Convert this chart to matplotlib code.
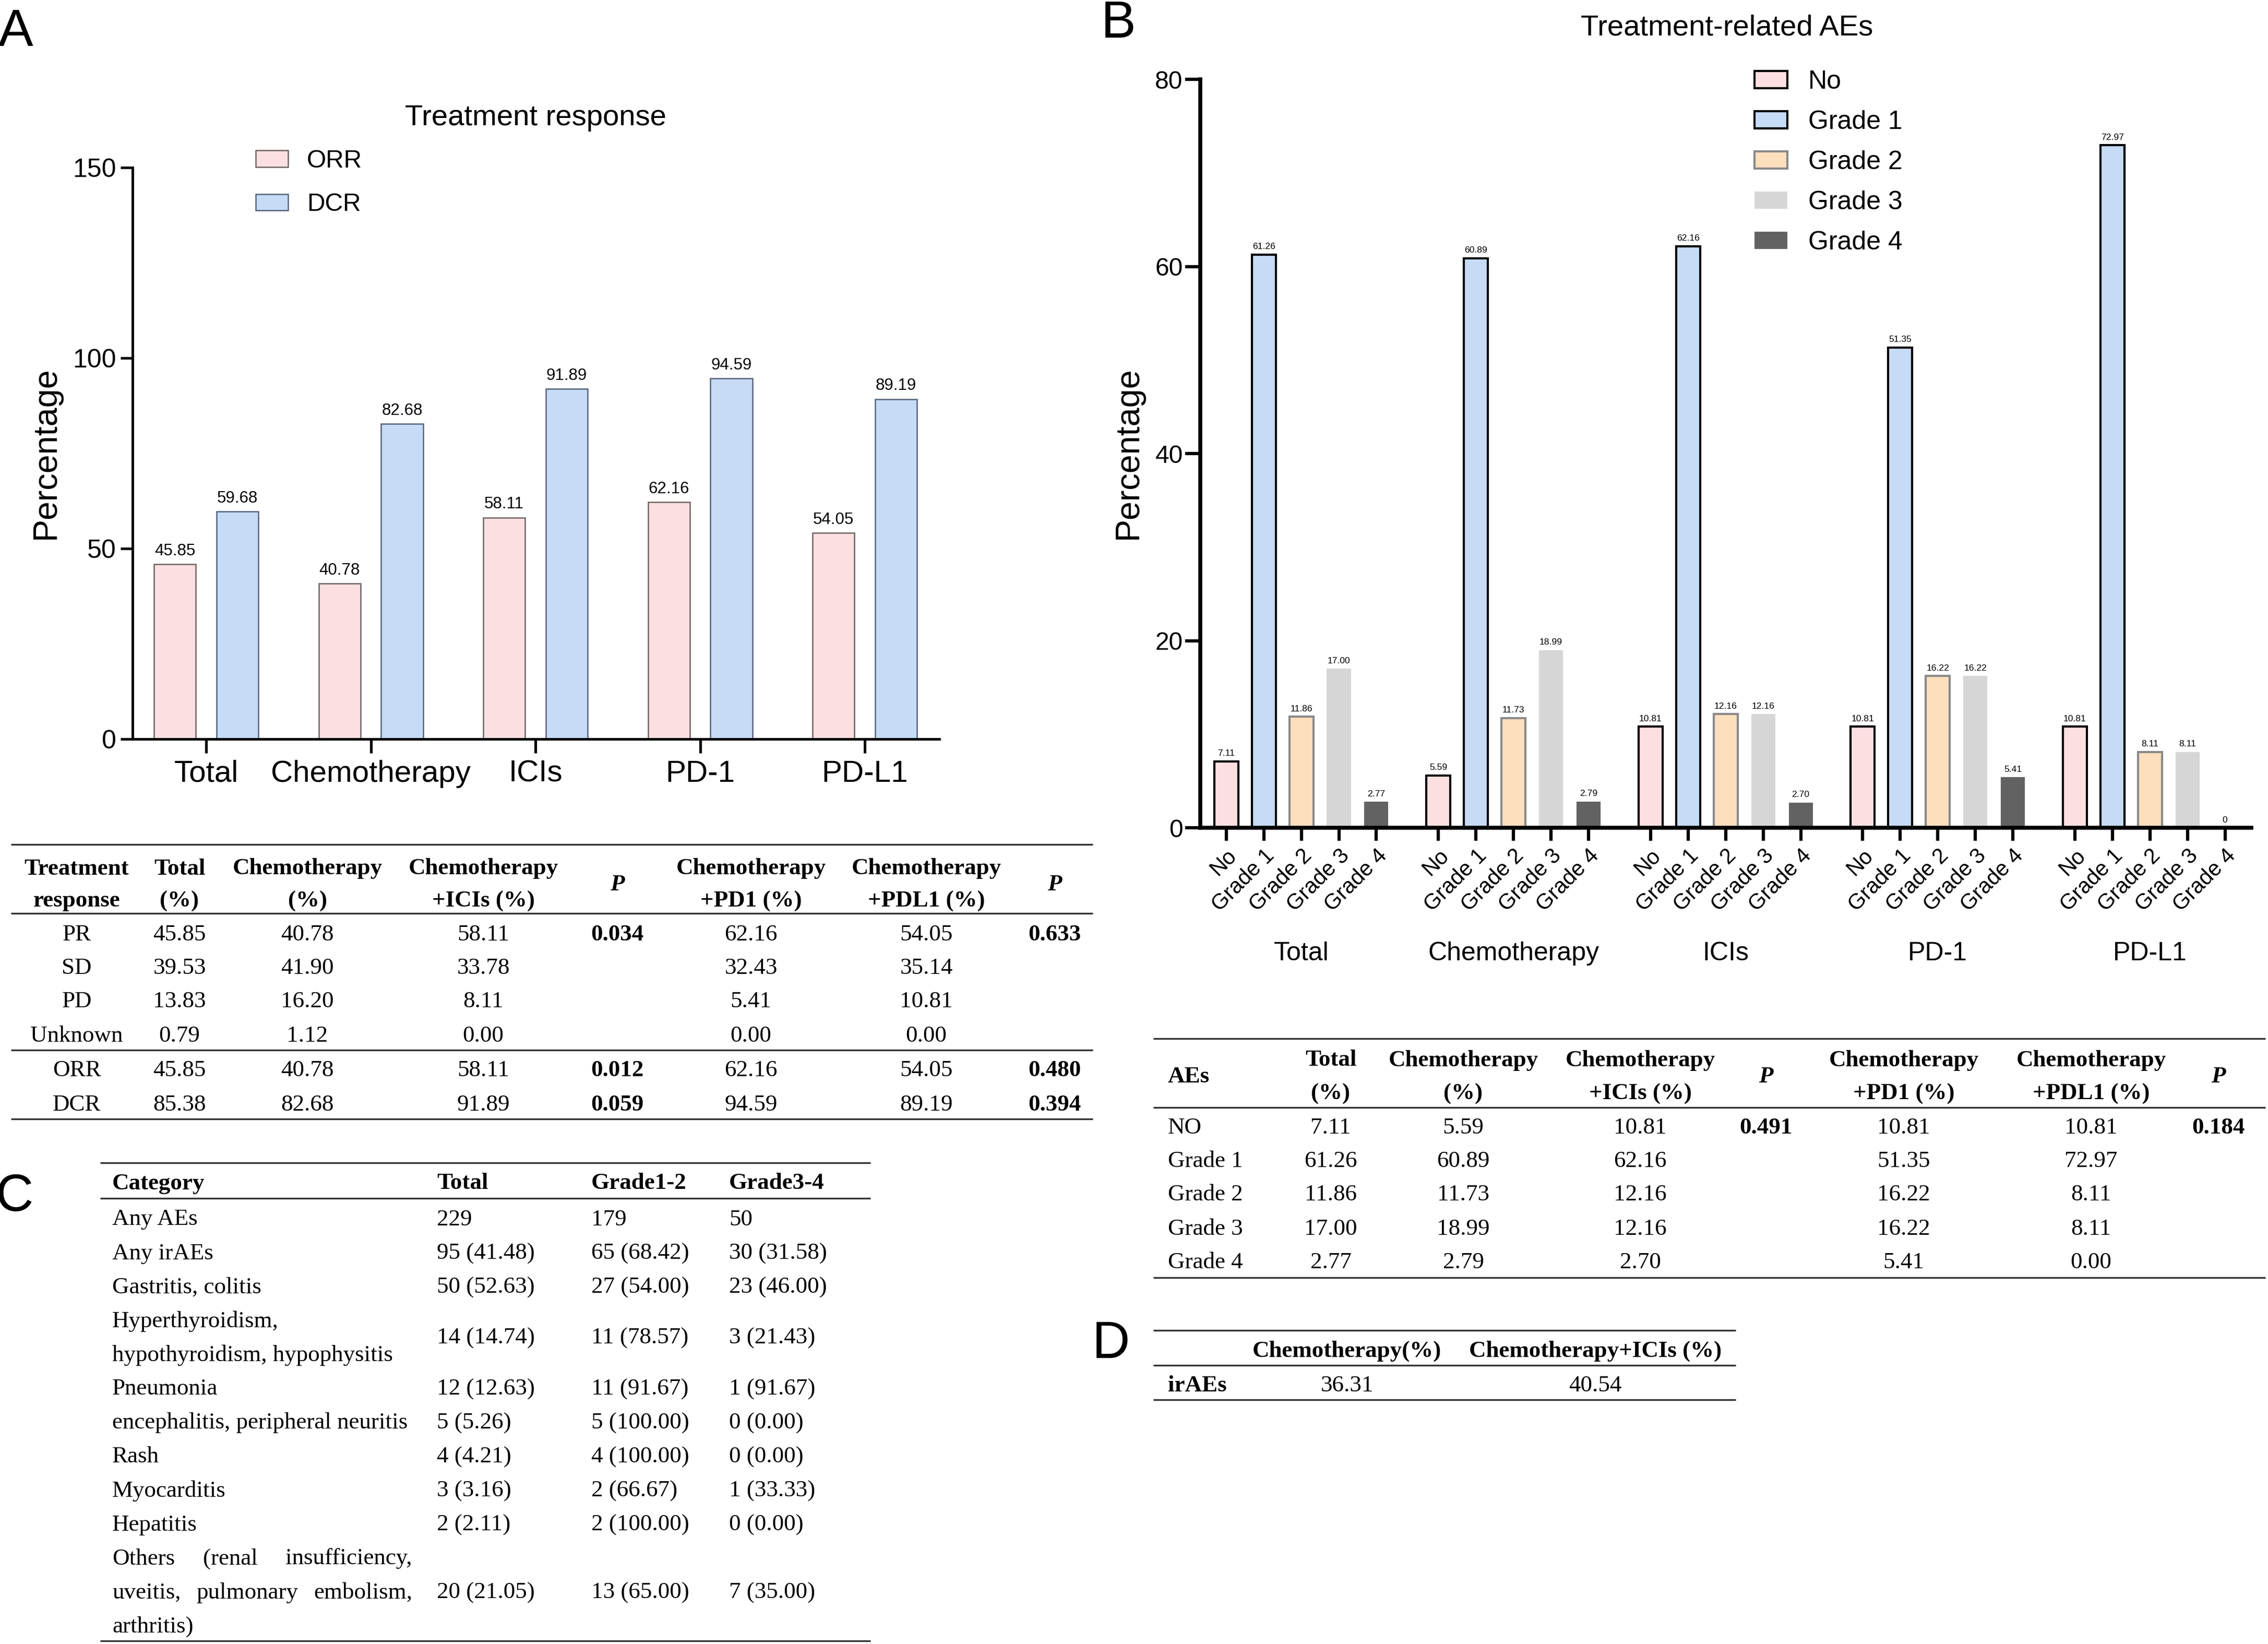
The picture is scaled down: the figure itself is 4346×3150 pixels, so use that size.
import matplotlib
matplotlib.use('Agg')
import matplotlib.pyplot as plt
import numpy as np

W, H = 4346, 3150
DPI = 300

# ---- chart data ----
groups = ['Total', 'Chemotherapy', 'ICIs', 'PD-1', 'PD-L1']
orr = [45.85, 40.78, 58.11, 62.16, 54.05]
dcr = [59.68, 82.68, 91.89, 94.59, 89.19]

grades = ['No', 'Grade 1', 'Grade 2', 'Grade 3', 'Grade 4']
ae_no = [7.11, 5.59, 10.81, 10.81, 10.81]
ae_g1 = [61.26, 60.89, 62.16, 51.35, 72.97]
ae_g2 = [11.86, 11.73, 12.16, 16.22, 8.11]
ae_g3 = [17.00, 18.99, 12.16, 16.22, 8.11]
ae_g4 = [2.77, 2.79, 2.70, 5.41, 0]

# ---- table A: treatment response ----
resp_head = [('Treatment', 'response'), ('Total', '(%)'), ('Chemotherapy', '(%)'),
             ('Chemotherapy', '+ICIs (%)'), ('P',), ('Chemotherapy', '+PD1 (%)'),
             ('Chemotherapy', '+PDL1 (%)'), ('P',)]
resp_rows = ['PR', 'SD', 'PD', 'Unknown', 'ORR', 'DCR']
resp_total = ['45.85', '39.53', '13.83', '0.79', '45.85', '85.38']
resp_chemo = ['40.78', '41.90', '16.20', '1.12', '40.78', '82.68']
resp_ici = ['58.11', '33.78', '8.11', '0.00', '58.11', '91.89']
resp_p1 = ['0.034', '', '', '', '0.012', '0.059']
resp_pd1 = ['62.16', '32.43', '5.41', '0.00', '62.16', '94.59']
resp_pdl1 = ['54.05', '35.14', '10.81', '0.00', '54.05', '89.19']
resp_p2 = ['0.633', '', '', '', '0.480', '0.394']

# ---- table B: AEs ----
ae_head = [('Total', '(%)'), ('Chemotherapy', '(%)'), ('Chemotherapy', '+ICIs (%)'),
           ('P',), ('Chemotherapy', '+PD1 (%)'), ('Chemotherapy', '+PDL1 (%)'), ('P',)]
ae_rows = ['NO', 'Grade 1', 'Grade 2', 'Grade 3', 'Grade 4']
ae_total = ['7.11', '61.26', '11.86', '17.00', '2.77']
ae_chemo = ['5.59', '60.89', '11.73', '18.99', '2.79']
ae_ici = ['10.81', '62.16', '12.16', '12.16', '2.70']
ae_p1 = ['0.491', '', '', '', '']
ae_pd1 = ['10.81', '51.35', '16.22', '16.22', '5.41']
ae_pdl1 = ['10.81', '72.97', '8.11', '8.11', '0.00']
ae_p2 = ['0.184', '', '', '', '']

# ---- table C: irAEs ----
cat_head = ['Category', 'Total', 'Grade1-2', 'Grade3-4']
cat_names = [['Any AEs'], ['Any irAEs'], ['Gastritis, colitis'],
             ['Hyperthyroidism,', 'hypothyroidism, hypophysitis'], ['Pneumonia'],
             ['encephalitis, peripheral neuritis'], ['Rash'], ['Myocarditis'], ['Hepatitis'],
             [['Others', '(renal', 'insufficiency,'], ['uveitis,', 'pulmonary', 'embolism,'], ['arthritis)']]]
cat_total = ['229', '95 (41.48)', '50 (52.63)', '14 (14.74)', '12 (12.63)', '5 (5.26)',
             '4 (4.21)', '3 (3.16)', '2 (2.11)', '20 (21.05)']
cat_g12 = ['179', '65 (68.42)', '27 (54.00)', '11 (78.57)', '11 (91.67)', '5 (100.00)',
           '4 (100.00)', '2 (66.67)', '2 (100.00)', '13 (65.00)']
cat_g34 = ['50', '30 (31.58)', '23 (46.00)', '3 (21.43)', '1 (91.67)', '0 (0.00)',
           '0 (0.00)', '1 (33.33)', '0 (0.00)', '7 (35.00)']

# ---- table D ----
ir_head = ['Chemotherapy(%)', 'Chemotherapy+ICIs (%)']
ir_vals = ['36.31', '40.54']

SANS = ['Liberation Sans', 'DejaVu Sans']
SERIF = ['Liberation Serif', 'DejaVu Serif']
NARROW = ['Liberation Sans Narrow', 'Liberation Sans', 'DejaVu Sans']
plt.rcParams['font.family'] = SANS

fig = plt.figure(figsize=(W / DPI, H / DPI), dpi=DPI)


def box(x0, y0, x1, y1):
    return [x0 / W, 1 - y1 / H, (x1 - x0) / W, (y1 - y0) / H]


# ================= Panel A =================
axA = fig.add_axes(box(254, 321, 1800, 1416))
xA = np.arange(len(groups))
bA1 = axA.bar(xA - 0.19, orr, 0.254, color='#FCE0E1', edgecolor='#6e6263', linewidth=0.6, label='ORR')
bA2 = axA.bar(xA + 0.19, dcr, 0.254, color='#C6DBF5', edgecolor='#56627a', linewidth=0.6, label='DCR')
axA.bar_label(bA1, fmt='%.2f', padding=2.5, fontsize=7.5)
axA.bar_label(bA2, fmt='%.2f', padding=2.5, fontsize=7.5)
axA.set_xlim(-0.447, 4.453)
axA.set_ylim(0, 150)
axA.set_yticks([0, 50, 100, 150])
axA.set_xticks(xA, groups)
axA.tick_params(axis='x', length=6.5, width=1.2, labelsize=14, pad=3)
axA.tick_params(axis='y', length=5.5, width=1.2, labelsize=12, pad=2)
for s in ['top', 'right']:
    axA.spines[s].set_visible(False)
for s in ['left', 'bottom']:
    axA.spines[s].set_linewidth(1.2)
axA.legend(loc='upper left', bbox_to_anchor=(490 / W, 1 - 286 / H), bbox_transform=fig.transFigure,
           frameon=False, fontsize=11.5, handlelength=1.3, handleheight=0.63,
           handletextpad=0.75, labelspacing=0.8, borderpad=0, borderaxespad=0)

# ================= Panel B =================
axB = fig.add_axes(box(2300, 152, 4314, 1586))
gap = 5.65
series = [ae_no, ae_g1, ae_g2, ae_g3, ae_g4]
fills = ['#FCE0E1', '#C6DBF5', '#FDDFBE', '#D6D6D6', '#626262']
edges = ['black', 'black', '#8a8a8a', 'none', 'none']
for i, (vals, fc, ec, lab) in enumerate(zip(series, fills, edges, grades)):
    xs = np.arange(len(groups)) * gap + i
    bars = axB.bar(xs, vals, 0.64, color=fc, edgecolor=ec, linewidth=1.0, label=lab)
    axB.bar_label(bars, labels=['0' if v == 0 else f'{v:.2f}' for v in vals],
                  padding=1.8, fontsize=4.2)
tick_pos = [g * gap + i for g in range(len(groups)) for i in range(len(grades))]
axB.set_xticks(tick_pos, grades * len(groups), rotation=45, ha='right', rotation_mode='anchor')
axB.set_xlim(-0.69, 27.3)
axB.set_ylim(0, 80)
axB.set_yticks([0, 20, 40, 60, 80])
axB.tick_params(axis='x', length=6, width=1.5, labelsize=10, pad=2)
axB.tick_params(axis='y', length=7, width=1.5, labelsize=11.5, pad=1)
for s in ['top', 'right']:
    axB.spines[s].set_visible(False)
for s in ['left', 'bottom']:
    axB.spines[s].set_linewidth(1.8)
for g, name in enumerate(groups):
    axB.text(g * gap + 2, -0.168, name, transform=axB.get_xaxis_transform(),
             ha='center', va='center', fontsize=12)
axB.legend(loc='upper left', bbox_to_anchor=(3362 / W, 1 - 134 / H), bbox_transform=fig.transFigure,
           frameon=False, fontsize=12, handlelength=1.26, handleheight=0.62,
           handletextpad=0.8, labelspacing=0.62, borderpad=0, borderaxespad=0)

# ================= overlay for titles / tables =================
lay = fig.add_axes([0, 0, 1, 1])
lay.set_xlim(0, W)
lay.set_ylim(H, 0)
lay.axis('off')

lay.text(1026, 226, 'Treatment response', ha='center', va='center', fontsize=13.5)
lay.text(3309, 53, 'Treatment-related AEs', ha='center', va='center', fontsize=13.5)
lay.text(88, 868, 'Percentage', rotation=90, ha='center', va='center', fontsize=15.5)
lay.text(2162, 868, 'Percentage', rotation=90, ha='center', va='center', fontsize=15.5)

for lab, (px, py) in zip('ABCD', [(30, 62), (2143, 46), (28, 2294), (2129, 2576)]):
    lay.text(px, py, lab, ha='center', va='center', fontsize=24, family=NARROW)

FS = 10.8
renderer = fig.canvas.get_renderer()


def hline(y, x0, x1):
    lay.plot([x0, x1], [y, y], color='#333333', lw=0.8, solid_capstyle='butt')


def cell(x, y, s, ha='center', bold=False, italic=False):
    return lay.text(x, y, s, ha=ha, va='center_baseline', fontsize=FS, family=SERIF,
                    weight='bold' if bold else 'normal', style='italic' if italic else 'normal')


def justified(words, y, x0, x1):
    # spread words so the line fills the column width, like justified text
    texts = [cell(x0, y, w, ha='left') for w in words]
    widths = [t.get_window_extent(renderer).width for t in texts]
    space = (x1 - x0 - sum(widths)) / max(len(words) - 1, 1)
    x = x0
    for t, w in zip(texts, widths):
        t.set_x(x)
        x += w + space


def header(cols, xs, ha_first, y1, y2, ymid):
    for (lines, x) in zip(cols, xs):
        if lines == ('P',):
            cell(x, ymid, 'P', bold=True, italic=True)
        elif len(lines) == 1:
            cell(x, ymid, lines[0], ha=ha_first, bold=True)
        else:
            cell(x, y1, lines[0], bold=True)
            cell(x, y2, lines[1], bold=True)


# --- table A ---
xa = [147, 344, 589, 926, 1183, 1439, 1775, 2021]
for y in [1618, 1750, 2012, 2144]:
    hline(y, 21, 2094)
header(resp_head, xa, 'center', 1660, 1722, 1691)
ya = [1787, 1850, 1915, 1980, 2047, 2112]
colsA = [resp_rows, resp_total, resp_chemo, resp_ici, resp_p1, resp_pd1, resp_pdl1, resp_p2]
for ci, (col, x) in enumerate(zip(colsA, xa)):
    for s, y in zip(col, ya):
        cell(x, y, s, bold=ci in (4, 7))

# --- table B (AEs) ---
xb = [2550, 2804, 3143, 3384, 3648, 4007, 4251]
for y in [1990, 2122, 2448]:
    hline(y, 2210, 4341)
cell(2238, 2058, 'AEs', ha='left', bold=True)
header(ae_head, xb, 'center', 2027, 2091, 2058)
yb = [2156, 2221, 2285, 2350, 2414]
for s, y in zip(ae_rows, yb):
    cell(2238, y, s, ha='left')
colsB = [ae_total, ae_chemo, ae_ici, ae_p1, ae_pd1, ae_pdl1, ae_p2]
for ci, (col, x) in enumerate(zip(colsB, xb)):
    for s, y in zip(col, yb):
        cell(x, y, s, bold=ci in (3, 6))

# --- table D ---
for y in [2549, 2616, 2682]:
    hline(y, 2210, 3326)
for s, x in zip(ir_head, [2581, 3057]):
    cell(x, 2584, s, bold=True)
cell(2238, 2651, 'irAEs', ha='left', bold=True)
for s, x in zip(ir_vals, [2581, 3057]):
    cell(x, 2651, s)

# --- table C ---
xc = [215, 837, 1133, 1397]
for y in [2228, 2296, 3144]:
    hline(y, 192, 1668)
for s, x in zip(cat_head, xc):
    cell(x, 2263, s, ha='left', bold=True)
pitch = 65
y = 2332
for name, t, g12, g34 in zip(cat_names, cat_total, cat_g12, cat_g34):
    n = len(name)
    ymid = y + (n - 1) * pitch / 2
    for k, line in enumerate(name):
        yy = y + k * pitch
        if isinstance(line, list) and len(line) > 1:
            justified(line, yy, 215, 790)
        elif isinstance(line, list):
            cell(215, yy, line[0], ha='left')
        else:
            cell(215, yy, line, ha='left')
    cell(xc[1], ymid, t, ha='left')
    cell(xc[2], ymid, g12, ha='left')
    cell(xc[3], ymid, g34, ha='left')
    y += n * pitch

fig.savefig('out.png', dpi=DPI)
